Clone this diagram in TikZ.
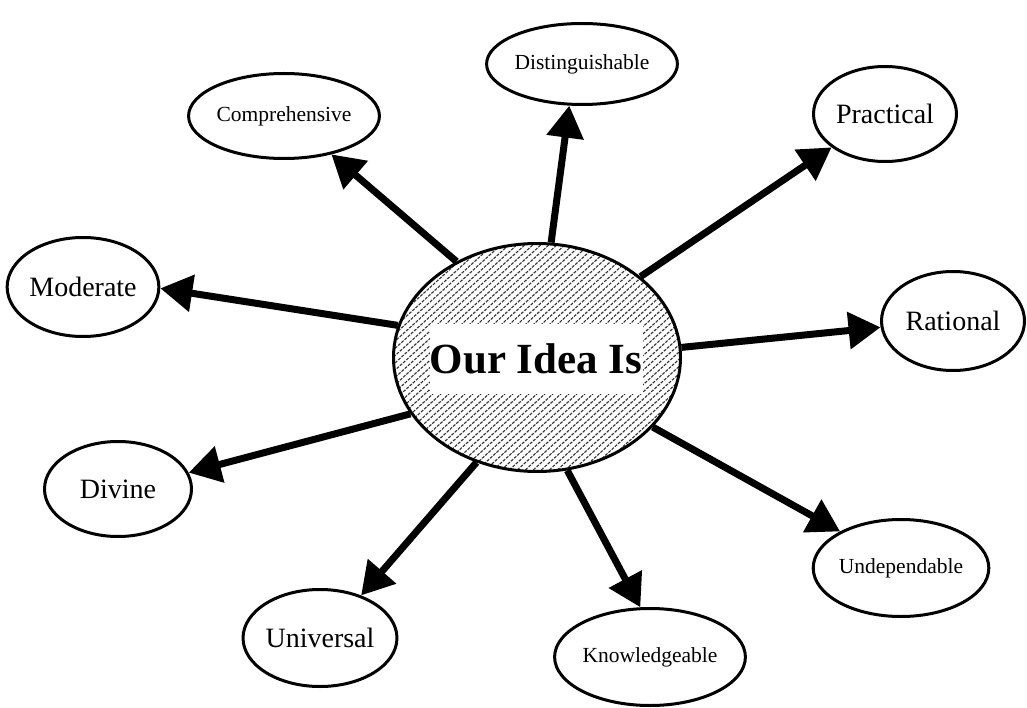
\documentclass[tikz,border=0pt]{standalone}
\usepackage{fontspec}
\setmainfont{Liberation Serif}
\usetikzlibrary{arrows.meta,shapes.geometric}
\begin{document}
\begin{tikzpicture}[x=1pt,y=-1pt,
  bubble/.style={draw=black, line width=3pt, ellipse, inner sep=0pt, fill=white},
  smallbub/.style={bubble, font=\fontsize{21.5}{24}\selectfont},
  midbub/.style={bubble, font=\fontsize{28}{32}\selectfont},
  hatchline/.style={black!80, line width=1.1pt, dash pattern=on 3pt off 1.3pt},
  link/.style={line width=7pt, -{Triangle[length=32pt,width=36pt]}}]
\useasboundingbox (0,0) rectangle (1027,708);
% central idea
\node[bubble, minimum width=287pt, minimum height=228pt,
  path picture={
    \foreach \i in {-304,-296,...,304}{
      \draw[hatchline] ([xshift=\i pt]path picture bounding box.center) ++(-165,150) -- ++(330,-300);
    }
  }] (c) at (537,357.5) {};
\node[fill=white, inner sep=0pt, minimum width=213pt, minimum height=70pt,
  font=\fontsize{43}{48}\selectfont\bfseries] (ct) at (536,359) {Our Idea Is};
% outer bubbles
\node[smallbub, minimum width=137pt, minimum height=81pt] (dis) at (582,64) {Distinguishable};
\node[smallbub, minimum width=141pt, minimum height=85pt] (com) at (284,116) {Comprehensive};
\node[midbub, minimum width=143pt, minimum height=95pt] (pra) at (885,114) {Practical};
\node[midbub, minimum width=151pt, minimum height=99pt] (mod) at (83,287) {Moderate};
\node[midbub, minimum width=143pt, minimum height=99pt] (rat) at (953,321) {Rational};
\node[midbub, minimum width=147pt, minimum height=95pt] (div) at (118,489) {Divine};
\node[midbub, minimum width=147pt, minimum height=97pt] (uni) at (320,638) {Universal};
\node[smallbub, minimum width=141pt, minimum height=97pt] (kno) at (650,657) {Knowledgeable};
\node[smallbub, minimum width=145pt, minimum height=97pt] (und) at (901,568) {Undependable};
% connectors
\draw[link] (c.83) -- (dis.253);
\draw[link] (c.130) -- (com.321);
\draw[link] (c.38) -- (pra.212);
\draw[link] (c.167) -- (mod.359);
\draw[link] (c.4) -- (rat.185);
\draw[link] (c.204.5) -- (div.13);
\draw[link] (c.240) -- (uni.46);
\draw[link] (c.285) -- (kno.101);
\draw[link] (c.329) -- (und.149);
\end{tikzpicture}
\end{document}
